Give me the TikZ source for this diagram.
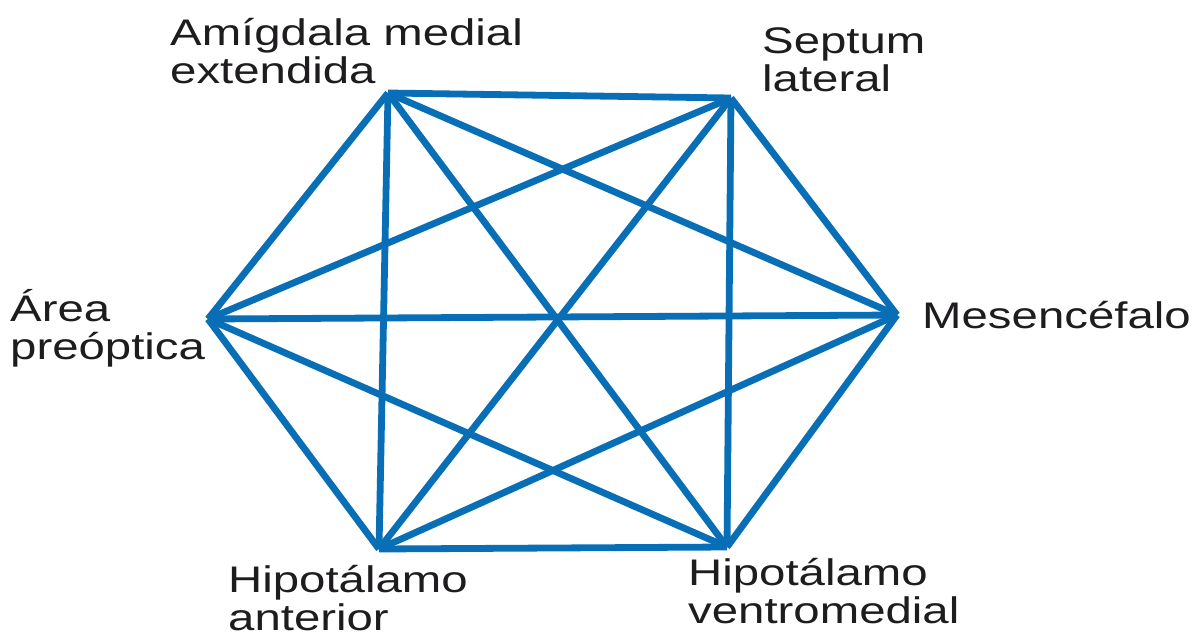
\documentclass[tikz,border=0pt]{standalone}
\usepackage{fontspec}
\setmainfont{Liberation Sans}[FakeStretch=1.28]
\definecolor{edgeblue}{RGB}{8,110,182}
\definecolor{labeltext}{RGB}{30,28,30}
\begin{document}
\begin{tikzpicture}[x=1pt,y=-1pt,
  link/.style={draw=edgeblue,line width=6.8pt,line cap=butt},
  lbl/.style={inner sep=0pt,align=left,text=labeltext,font=\fontsize{37}{37.5}\selectfont}]
\useasboundingbox (0,0) rectangle (1195,643);
\coordinate (ame) at (388,93);
\coordinate (sl) at (731,98);
\coordinate (mes) at (897,315);
\coordinate (hvm) at (727,547);
\coordinate (ha) at (379,549);
\coordinate (ap) at (208,319);
\foreach \a/\b in {ame/sl,ame/mes,ame/hvm,ame/ha,ame/ap,sl/mes,sl/hvm,sl/ha,sl/ap,mes/hvm,mes/ha,mes/ap,hvm/ha,hvm/ap,ha/ap}
  \draw[link] (\a) -- (\b);
\node[lbl,anchor=base west] (tame) at (170,83) {Amígdala medial\\extendida};
\node[lbl,anchor=base west] (tsl) at (762,91) {Septum\\lateral};
\node[lbl,anchor=base west] (tap) at (10,359) {Área\\preóptica};
\node[lbl,anchor=base west] (tmes) at (922,328) {Mesencéfalo};
\node[lbl,anchor=base west] (tha) at (228,630) {Hipotálamo\\anterior};
\node[lbl,anchor=base west] (thvm) at (688,623) {Hipotálamo\\ventromedial};
\end{tikzpicture}
\end{document}
